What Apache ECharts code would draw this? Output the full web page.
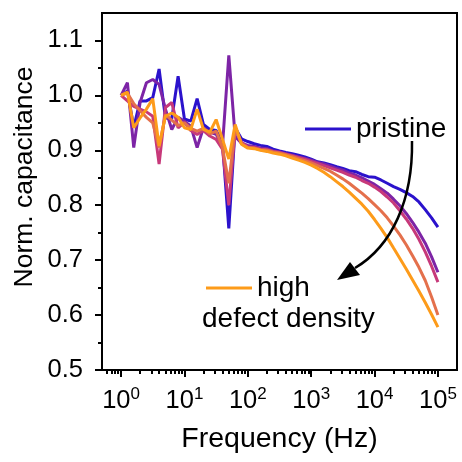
<!DOCTYPE html>
<html><head><meta charset="utf-8">
<script src="https://cdn.jsdelivr.net/npm/echarts@6/dist/echarts.min.js"></script>
<style>html,body{margin:0;padding:0;background:#fff}#c{width:462px;height:462px}</style>
</head><body><div id="c"></div>
<script>
// Frequencies (Hz), 10 points per decade
const freq = [1, 1.259, 1.585, 1.995, 2.512, 3.162, 3.981, 5.012, 6.310, 7.943,
  10, 12.59, 15.85, 19.95, 25.12, 31.62, 39.81, 50.12, 63.10, 79.43,
  100, 125.9, 158.5, 199.5, 251.2, 316.2, 398.1, 501.2, 631.0, 794.3,
  1000, 1259, 1585, 1995, 2512, 3162, 3981, 5012, 6310, 7943,
  10000, 12590, 15850, 19950, 25120, 31620, 39810, 50120, 63100, 79430, 100000];

const pristine = [1.000, 1.008, 0.942, 0.990, 0.990, 0.996, 1.048, 0.959, 0.958, 1.035,
  0.957, 0.953, 0.994, 0.947, 0.938, 0.936, 0.914, 0.758, 0.941, 0.921,
  0.916, 0.912, 0.909, 0.907, 0.902, 0.899, 0.896, 0.894, 0.891, 0.888,
  0.884, 0.879, 0.877, 0.874, 0.870, 0.867, 0.863, 0.861, 0.856, 0.852,
  0.851, 0.846, 0.840, 0.834, 0.829, 0.823, 0.816, 0.806, 0.792, 0.777, 0.760];
const defect1 = [1.000, 1.023, 0.905, 0.987, 1.023, 1.029, 1.020, 0.975, 0.938, 0.960,
  0.953, 0.944, 0.905, 0.941, 0.933, 0.929, 0.908, 1.073, 0.925, 0.913,
  0.909, 0.907, 0.904, 0.903, 0.899, 0.897, 0.894, 0.891, 0.888, 0.885,
  0.882, 0.878, 0.875, 0.871, 0.867, 0.864, 0.859, 0.855, 0.850, 0.844,
  0.838, 0.830, 0.822, 0.811, 0.799, 0.785, 0.769, 0.751, 0.731, 0.706, 0.678];
const defect2 = [1.000, 0.990, 0.980, 0.975, 0.970, 0.962, 0.875, 0.978, 0.987, 0.941,
  0.951, 0.936, 0.929, 0.936, 0.926, 0.920, 0.902, 0.800, 0.938, 0.915,
  0.906, 0.905, 0.902, 0.901, 0.898, 0.896, 0.893, 0.890, 0.887, 0.884,
  0.880, 0.876, 0.872, 0.868, 0.864, 0.860, 0.855, 0.851, 0.845, 0.840,
  0.833, 0.825, 0.815, 0.804, 0.790, 0.775, 0.758, 0.738, 0.715, 0.689, 0.660];
const defect3 = [1.000, 1.004, 0.985, 0.972, 0.960, 0.950, 0.905, 0.965, 0.955, 0.945,
  0.950, 0.940, 0.935, 0.940, 0.930, 0.935, 0.905, 0.840, 0.940, 0.912,
  0.905, 0.904, 0.901, 0.900, 0.897, 0.895, 0.892, 0.889, 0.885, 0.881,
  0.877, 0.872, 0.867, 0.862, 0.855, 0.848, 0.840, 0.831, 0.822, 0.812,
  0.801, 0.790, 0.777, 0.762, 0.746, 0.728, 0.708, 0.687, 0.663, 0.633, 0.600];
const highDefect = [1.000, 1.006, 0.941, 0.959, 0.975, 0.994, 0.908, 0.962, 0.968, 0.960,
  0.941, 0.938, 0.975, 0.938, 0.933, 0.956, 0.920, 0.884, 0.947, 0.911,
  0.904, 0.903, 0.900, 0.898, 0.895, 0.893, 0.890, 0.886, 0.882, 0.878,
  0.873, 0.867, 0.860, 0.852, 0.843, 0.834, 0.824, 0.813, 0.802, 0.789,
  0.774, 0.758, 0.741, 0.722, 0.703, 0.684, 0.664, 0.644, 0.623, 0.601, 0.578];

const seriesNames = ['pristine', 'defect 1', 'defect 2', 'defect 3', 'high defect density'];
const seriesValues = [pristine, defect1, defect2, defect3, highDefect];
const seriesColors = ['#2b12cc', '#7d24a6', '#c7397a', '#e4704c', '#fd9b1a'];

const xMajorExp = [0, 1, 2, 3, 4, 5];
const xMinorHz = [0.6, 0.7, 0.8, 0.9,
  2, 3, 4, 5, 6, 7, 8, 9, 20, 30, 40, 50, 60, 70, 80, 90,
  200, 300, 400, 500, 600, 700, 800, 900, 2000, 3000, 4000, 5000, 6000, 7000, 8000, 9000,
  20000, 30000, 40000, 50000, 60000, 70000, 80000, 90000];
const yMajor = [0.5, 0.6, 0.7, 0.8, 0.9, 1.0, 1.1];
const yMinor = [0.55, 0.65, 0.75, 0.85, 0.95, 1.05];

const FONT = 'Liberation Sans, Arial, sans-serif';
const xMin = Math.log10(0.5), xMax = Math.log10(2e5);

const chart = echarts.init(document.getElementById('c'), null, {renderer: 'canvas'});

const series = seriesNames.map((n, i) => ({
  name: n, type: 'line', xAxisIndex: 0, yAxisIndex: 0,
  data: freq.map((f, j) => [Math.log10(f), seriesValues[i][j]]),
  showSymbol: false, symbol: 'none',
  lineStyle: {width: 3, color: seriesColors[i]},
  itemStyle: {color: seriesColors[i]},
  z: 2 + i, animation: false
}));

const option = {
  animation: false,
  grid: {left: 102, right: 5, top: 13, bottom: 92, show: true, borderColor: '#000', borderWidth: 2, backgroundColor: 'transparent'},
  xAxis: [{
    type: 'value', min: xMin, max: xMax, position: 'bottom',
    axisLine: {show: true, onZero: false, lineStyle: {color: '#000', width: 2}},
    axisTick: {show: true, length: 7, lineStyle: {color: '#000', width: 2}, customValues: xMajorExp},
    axisLabel: {show: true, margin: 16, customValues: xMajorExp,
      formatter: v => '{b|10}{s|' + Math.round(v) + '}',
      rich: {b: {fontSize: 25.5, fontFamily: FONT, color: '#000', lineHeight: 30},
             s: {fontSize: 17, fontFamily: FONT, color: '#000', verticalAlign: 'top', lineHeight: 30}}},
    splitLine: {show: false},
    name: 'Frequency (Hz)', nameLocation: 'middle', nameGap: 55,
    nameTextStyle: {fontSize: 28.5, fontFamily: FONT, color: '#000'}
  }, {
    type: 'value', min: xMin, max: xMax, position: 'bottom',
    axisLine: {show: false, onZero: false},
    axisTick: {show: true, length: 4, lineStyle: {color: '#000', width: 2},
      customValues: xMinorHz.map(v => Math.log10(v))},
    axisLabel: {show: false}, splitLine: {show: false}
  }],
  yAxis: [{
    type: 'value', min: 0.5, max: 1.15, position: 'left',
    axisLine: {show: true, onZero: false, lineStyle: {color: '#000', width: 2}},
    axisTick: {show: true, length: 7, lineStyle: {color: '#000', width: 2}, customValues: yMajor},
    axisLabel: {show: true, margin: 19, customValues: yMajor,
      formatter: v => v.toFixed(1), fontSize: 25.5, fontFamily: FONT, color: '#000'},
    splitLine: {show: false}
  }, {
    type: 'value', min: 0.5, max: 1.15, position: 'left',
    axisLine: {show: false, onZero: false},
    axisTick: {show: true, length: 4, lineStyle: {color: '#000', width: 2}, customValues: yMinor},
    axisLabel: {show: false}, splitLine: {show: false}
  }],
  legend: [{
    data: ['pristine'], left: 300, top: 110, orient: 'horizontal',
    icon: 'rect', itemWidth: 46, itemHeight: 3, selectedMode: false,
    textStyle: {fontSize: 28, fontFamily: FONT, color: '#000'}
  }, {
    data: ['high defect density'], left: 201, top: 269, orient: 'horizontal',
    icon: 'rect', itemWidth: 46, itemHeight: 3, selectedMode: false,
    formatter: () => 'high',
    textStyle: {fontSize: 28, fontFamily: FONT, color: '#000'}
  }],
  graphic: [
    {type: 'text', left: 202, top: 305, style: {text: 'defect density', fontSize: 28, fontFamily: FONT, fill: '#000'}},
    {type: 'text', x: 25, y: 177, rotation: Math.PI / 2,
      style: {text: 'Norm. capacitance', fontSize: 26.5, fontFamily: FONT, fill: '#000', align: 'center', verticalAlign: 'middle'}},
    {type: 'bezierCurve', shape: {x1: 412, y1: 141, cpx1: 413, cpy1: 200, cpx2: 392, cpy2: 246, x2: 355, y2: 268},
      style: {stroke: '#000', lineWidth: 2.5, fill: null}, z: 20},
    {type: 'polygon', shape: {points: [[337, 280], [350, 262], [360, 275]]},
      style: {fill: '#000'}, z: 20}
  ],
  series: series
};
chart.setOption(option);
</script></body></html>
